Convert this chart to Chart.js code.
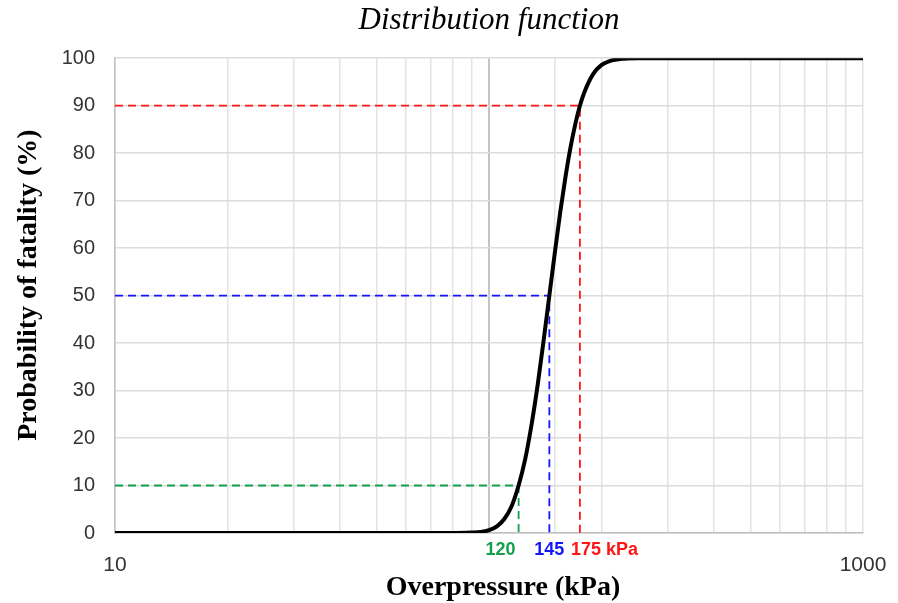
<!DOCTYPE html>
<html>
<head>
<meta charset="utf-8">
<script src="https://cdn.jsdelivr.net/npm/chart.js@4.4.0/dist/chart.umd.min.js"></script>
<style>
  html, body { margin: 0; padding: 0; background: #fff; }
  #wrap { width: 898px; height: 603px; }
</style>
</head>
<body>
<div id="wrap"><canvas id="cdfChart" width="898" height="603"></canvas></div>
<script>
// overpressure (kPa) and probability of fatality (%)
var pressure = [10, 50, 80, 90, 95, 100, 105, 110, 115, 120, 125, 130, 135, 140, 145, 150, 155, 160, 165, 170, 175, 180, 190, 200, 210, 230, 250, 1000];
var fatality = [0, 0, 0, 0.1, 0.2, 0.6, 1.4, 3.0, 5.7, 10, 15.6, 22.9, 31.3, 40.6, 50, 59.1, 67.5, 74.8, 81.0, 86.0, 90, 92.9, 96.7, 98.6, 99.4, 99.9, 100, 100];

// marked points on the curve
var markPressure = [120, 145, 175];
var markLevel = [10, 50, 90];
var markText = ['120', '145', '175 kPa'];
var markColor = ['#12a04c', '#1515ff', '#ff1515'];

var yTicks = [0, 10, 20, 30, 40, 50, 60, 70, 80, 90, 100];
var xLabels = [10, 1000];

var curve = pressure.map(function (p, i) { return { x: p, y: fatality[i] }; });

var datasets = [{
  data: curve,
  borderColor: '#000',
  borderWidth: 4,
  pointRadius: 0,
  cubicInterpolationMode: 'monotone',
  fill: false
}];

for (var i = 0; i < markPressure.length; i++) {
  datasets.push({
    data: [{ x: 10, y: markLevel[i] }, { x: markPressure[i], y: markLevel[i] }, { x: markPressure[i], y: 0 }],
    borderColor: markColor[i],
    borderWidth: 1.8,
    borderDash: [8, 5],
    pointRadius: 0,
    tension: 0,
    fill: false
  });
}

// labels under the axis for the marked pressures
var markLabels = {
  id: 'markLabels',
  afterDraw: function (chart) {
    var ctx = chart.ctx, xs = chart.scales.x, top = chart.chartArea.bottom + 17;
    var align = ['right', 'center', 'left'];
    var shift = [-3, 0, -9];
    ctx.save();
    ctx.font = 'bold 18px "Liberation Sans", Arial, sans-serif';
    ctx.textBaseline = 'middle';
    for (var i = 0; i < markPressure.length; i++) {
      ctx.fillStyle = markColor[i];
      ctx.textAlign = align[i];
      ctx.fillText(markText[i], xs.getPixelForValue(markPressure[i]) + shift[i], top);
    }
    ctx.restore();
  }
};

new Chart('cdfChart', {
  type: 'line',
  data: { datasets: datasets },
  plugins: [markLabels],
  options: {
    responsive: false,
    animation: false,
    layout: { padding: { left: 0, right: 35, top: 0, bottom: 0 } },
    plugins: {
      legend: { display: false },
      tooltip: { enabled: false },
      title: {
        display: true,
        fullSize: false,
        text: 'Distribution function',
        color: '#000',
        font: { family: '"Liberation Serif", "Times New Roman", serif', size: 31, style: 'italic', weight: 'normal' },
        padding: { top: 2, bottom: 19 }
      }
    },
    scales: {
      x: {
        type: 'logarithmic',
        min: 10,
        max: 1000,
        afterFit: function (s) { s.height = 70; s.paddingLeft = 0; s.paddingRight = 0; },
        border: { color: '#c0c0c0', width: 1.5 },
        grid: {
          drawTicks: false,
          color: function (c) { return c.tick && c.tick.value === 100 ? '#c4c4c4' : '#e3e3e3'; },
          lineWidth: function (c) { return c.tick && c.tick.value === 100 ? 2 : 1.5; }
        },
        ticks: {
          padding: 20,
          color: '#333',
          autoSkip: false,
          maxRotation: 0,
          font: { family: '"Liberation Sans", Arial, sans-serif', size: 21 },
          callback: function (v) { return xLabels.indexOf(v) >= 0 ? String(v) : ''; }
        },
        title: {
          display: true,
          // leading spaces nudge the title right, as in the source figure
          text: '    Overpressure (kPa)',
          color: '#000',
          font: { family: '"Liberation Serif", "Times New Roman", serif', size: 28, weight: 'bold', lineHeight: 1.1 },
          padding: { top: 0, bottom: 0 }
        }
      },
      y: {
        min: 0,
        max: 100,
        afterFit: function (s) { s.width = 115; s.paddingTop = 0; s.paddingBottom = 0; },
        afterBuildTicks: function (s) { s.ticks = yTicks.map(function (v) { return { value: v }; }); },
        border: { color: '#c0c0c0', width: 1.5 },
        grid: { drawTicks: false, color: '#dcdcdc', lineWidth: 1.5 },
        ticks: {
          padding: 20,
          color: '#333',
          font: { family: '"Liberation Sans", Arial, sans-serif', size: 20 }
        },
        title: {
          display: true,
          text: '   Probability of fatality (%)',
          color: '#000',
          font: { family: '"Liberation Serif", "Times New Roman", serif', size: 28, weight: 'bold', lineHeight: 1.1 },
          padding: { top: 13, bottom: 0 }
        }
      }
    }
  }
});
</script>
</body>
</html>
